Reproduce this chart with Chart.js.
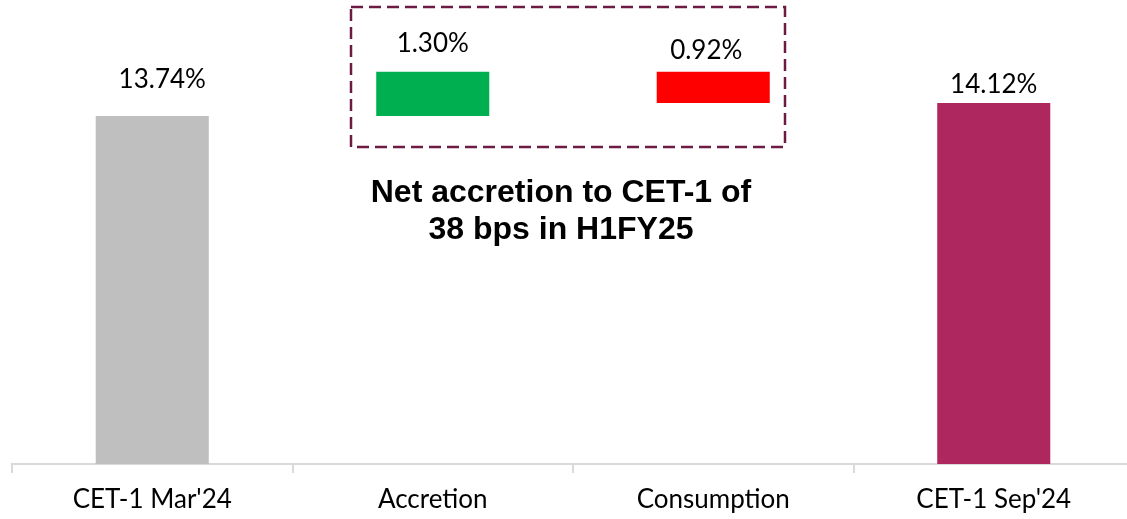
<!DOCTYPE html>
<html>
<head>
<meta charset="utf-8">
<script src="https://cdn.jsdelivr.net/npm/chart.js@4.4.1/dist/chart.umd.min.js"></script>
<style>
  html, body { margin: 0; padding: 0; background: #fff; overflow: hidden; }
  #wrap { width: 1134px; height: 519px; position: relative; }
</style>
</head>
<body>
<div id="wrap"><canvas id="myChart"></canvas></div>
<script>
// chart data
var categories = ["CET-1 Mar'24", "Accretion", "Consumption", "CET-1 Sep'24"];
var startValue = 13.74;
var accretion = 1.30;
var consumption = 0.92;
var endValue = 14.12;
var labels = ["13.74%", "1.30%", "0.92%", "14.12%"];

var yMin = 3.5;
var yMax = 17.15;

// floating bars for the waterfall
var peak = startValue + accretion;
var bars = [
    [yMin, startValue],
    [startValue, peak],
    [peak - consumption, peak],
    [yMin, endValue]
];
var colors = ["#bfbfbf", "#00b050", "#ff0000", "#ae275f"];

// small nudges for the value labels [dx, gap above bar top]
var labelNudge = [[10, 28], [0, 20], [-7, 13], [0, 10]];

var overlay = {
    id: 'overlay',
    afterDatasetsDraw: function(chart) {
        var ctx = chart.ctx;
        var meta = chart.getDatasetMeta(0);
        ctx.save();
        ctx.fillStyle = '#000';
        ctx.font = '26px Lato';
        ctx.textAlign = 'center';
        ctx.textBaseline = 'alphabetic';
        meta.data.forEach(function(bar, i) {
            ctx.fillText(labels[i], bar.x + labelNudge[i][0], bar.y - labelNudge[i][1]);
        });

        // dashed box round the two movements
        ctx.strokeStyle = '#6e1b43';
        ctx.lineWidth = 2.5;
        ctx.setLineDash([12, 6]);
        ctx.strokeRect(351, 7, 434, 140);
        ctx.setLineDash([]);

        ctx.font = 'bold 32px "Liberation Sans", Arial';
        ctx.fillText('Net accretion to CET-1 of', 561, 202);
        ctx.fillText('38 bps in H1FY25', 561, 239);
        ctx.restore();
    }
};

var ctx = document.getElementById('myChart');

var myChart = new Chart(ctx, {
    type: 'bar',
    data: {
        labels: categories,
        datasets: [
            {
                data: bars,
                backgroundColor: colors,
                borderWidth: 0,
                categoryPercentage: 1,
                barPercentage: 0.403
            }
        ]
    },
    options: {
        responsive: true,
        maintainAspectRatio: false,
        animation: false,
        layout: { padding: { left: 12, right: 0, top: 0, bottom: 0 } },
        plugins: {
            legend: { display: false },
            tooltip: { enabled: false }
        },
        scales: {
            x: {
                afterFit: function(scale) { scale.height = 55; },
                border: { color: '#d9d9d9', width: 2 },
                grid: {
                    drawOnChartArea: false,
                    drawTicks: true,
                    tickLength: 9,
                    color: '#d9d9d9',
                    lineWidth: 2
                },
                ticks: {
                    color: '#000',
                    font: { family: 'Lato', size: 26 },
                    padding: 11
                }
            },
            y: {
                display: false,
                min: yMin,
                max: yMax
            }
        }
    },
    plugins: [overlay]
});
</script>
</body>
</html>
